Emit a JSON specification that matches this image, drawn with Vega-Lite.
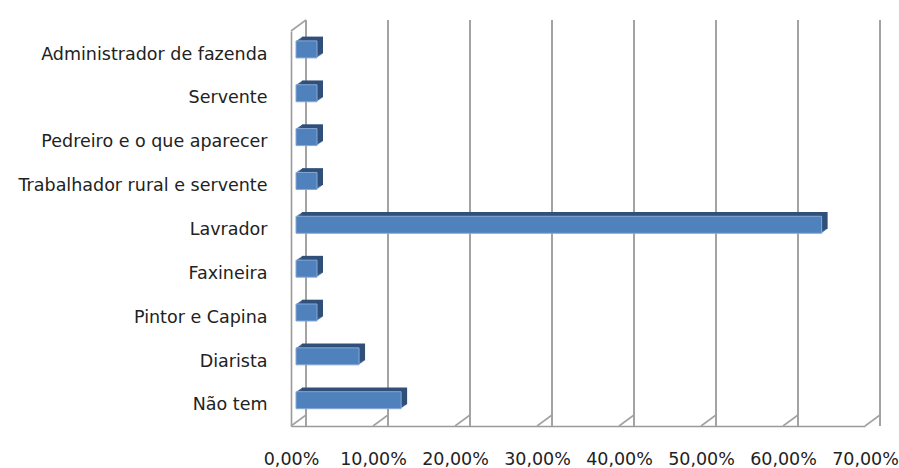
{
  "$schema": "https://vega.github.io/schema/vega-lite/v6.json",
  "width": 574,
  "height": 395,
  "autosize": "none",
  "padding": {"left": 291, "top": 31, "right": 34, "bottom": 42},
  "config": {
    "view": {"stroke": null},
    "font": "DejaVu Sans"
  },
  "datasets": {
    "ocupacao": [
      {"ocupacao": "Administrador de fazenda", "pct": 0.0256},
      {"ocupacao": "Servente", "pct": 0.0256},
      {"ocupacao": "Pedreiro e o que aparecer", "pct": 0.0256},
      {"ocupacao": "Trabalhador rural e servente", "pct": 0.0256},
      {"ocupacao": "Lavrador", "pct": 0.641},
      {"ocupacao": "Faxineira", "pct": 0.0256},
      {"ocupacao": "Pintor e Capina", "pct": 0.0256},
      {"ocupacao": "Diarista", "pct": 0.0769},
      {"ocupacao": "Não tem", "pct": 0.1282}
    ],
    "marcas": [
      {"v": 0}, {"v": 0.1}, {"v": 0.2}, {"v": 0.3},
      {"v": 0.4}, {"v": 0.5}, {"v": 0.6}, {"v": 0.7}
    ]
  },
  "layer": [
    {
      "description": "back wall gridlines",
      "data": {"name": "marcas"},
      "mark": {"type": "rule", "stroke": "#a3a3a3", "strokeWidth": 2, "xOffset": 15, "yOffset": -11, "y2Offset": -11},
      "encoding": {
        "x": {
          "field": "v",
          "type": "quantitative",
          "scale": {"domain": [0, 0.7], "nice": false, "zero": true},
          "axis": {
            "title": null,
            "values": [0, 0.1, 0.2, 0.3, 0.4, 0.5, 0.6, 0.7],
            "labelExpr": "replace(format(datum.value, '.2%'), '.', ',')",
            "grid": false,
            "ticks": false,
            "domain": true,
            "domainColor": "#9a9a9a",
            "domainWidth": 1.6,
            "labelFont": "DejaVu Sans",
            "labelFontSize": 17.5,
            "labelColor": "#222222",
            "labelPadding": 24,
            "labelFlush": false,
            "labelOverlap": false
          }
        }
      }
    },
    {
      "description": "floor depth ticks",
      "data": {"name": "marcas"},
      "mark": {"type": "rule", "stroke": "#a3a3a3", "strokeWidth": 1.6, "x2Offset": 15, "y2Offset": -11},
      "encoding": {
        "x": {"field": "v", "type": "quantitative", "title": null},
        "x2": {"field": "v"},
        "y": {"value": {"expr": "height"}},
        "y2": {"value": {"expr": "height"}}
      }
    },
    {
      "description": "left wall top edge",
      "data": {"values": [{"v": 0}]},
      "mark": {"type": "rule", "stroke": "#a3a3a3", "strokeWidth": 1.6, "x2Offset": 15, "y2Offset": -11},
      "encoding": {
        "x": {"field": "v", "type": "quantitative", "title": null},
        "x2": {"field": "v"},
        "y": {"value": {"expr": "0"}},
        "y2": {"value": {"expr": "0"}}
      }
    },
    {
      "data": {"name": "ocupacao"},
      "encoding": {
        "y": {
          "field": "ocupacao",
          "type": "nominal",
          "sort": null,
          "scale": {"paddingInner": 0.612, "paddingOuter": 0.31},
          "axis": {
            "title": null,
            "ticks": false,
            "domain": true,
            "domainColor": "#9a9a9a",
            "domainWidth": 1.6,
            "labelFont": "DejaVu Sans",
            "labelFontSize": 17.5,
            "labelColor": "#222222",
            "labelPadding": 24,
            "labelOffset": 1.5,
            "labelLimit": 300
          }
        },
        "x": {"field": "pct", "type": "quantitative", "stack": null, "title": null},
        "x2": {"datum": 0}
      },
      "layer": [
        {"mark": {"type": "bar", "fill": "#3a5f8e", "xOffset": 6.2, "x2Offset": 6.2, "yOffset": -4.6, "y2Offset": -4.6}},
        {"mark": {"type": "bar", "fill": "#3a5f8e", "xOffset": 7.4, "x2Offset": 7.4, "yOffset": -5.5, "y2Offset": -5.5}},
        {"mark": {"type": "bar", "fill": "#3a5f8e", "xOffset": 8.6, "x2Offset": 8.6, "yOffset": -6.3, "y2Offset": -6.3}},
        {"mark": {"type": "bar", "fill": "#355784", "xOffset": 9.8, "x2Offset": 9.8, "yOffset": -7.2, "y2Offset": -7.2}},
        {"mark": {"type": "bar", "fill": "#30507a", "xOffset": 11, "x2Offset": 11, "yOffset": -8, "y2Offset": -8}},
        {"mark": {"type": "bar", "fill": "#4f81bd", "stroke": "#86a8d6", "strokeWidth": 1, "xOffset": 5, "x2Offset": 5, "yOffset": -3.7, "y2Offset": -3.7}}
      ]
    }
  ]
}
